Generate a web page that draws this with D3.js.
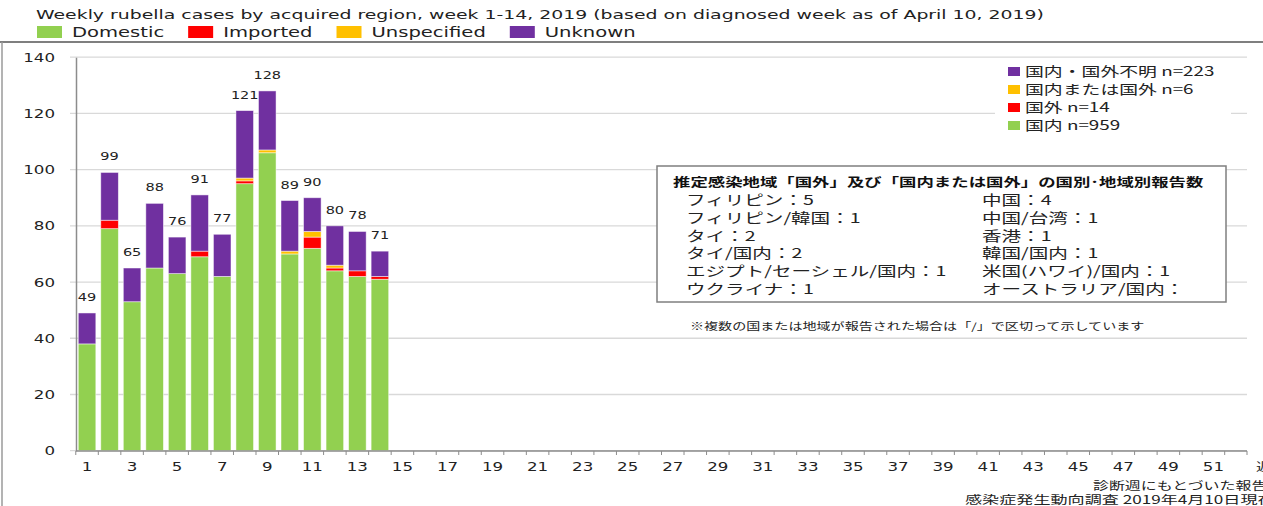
<!DOCTYPE html>
<html>
<head>
<meta charset="utf-8">
<script src="https://cdn.jsdelivr.net/npm/d3@7"></script>
<style>
  body { margin: 0; background: #fff; }
  svg { display: block; }
</style>
</head>
<body>
<svg id="chart" width="1263" height="506"></svg>
<script>
// weekly rubella counts, 2019 week 1-14, by acquired region
var weeks = d3.range(1, 53)
var domestic    = [38, 79, 53, 65, 63, 69, 62, 95, 106, 70, 72, 64, 62, 61]
var imported    = [0, 3, 0, 0, 0, 2, 0, 1, 0, 0, 4, 1, 2, 1]
var unspecified = [0, 0, 0, 0, 0, 0, 0, 1, 1, 1, 2, 1, 0, 0]
var unknown     = [11, 17, 12, 23, 13, 20, 15, 24, 21, 18, 12, 14, 14, 9]

var seriesKeys   = ["domestic", "imported", "unspecified", "unknown"]
var seriesColors = ["#92d050", "#ff0000", "#ffc000", "#7030a0"]
var legendEn     = ["Domestic", "Imported", "Unspecified", "Unknown"]
var legendJa     = ["国内", "国外", "国内または国外", "国内・国外不明"]
var yTicks       = [0, 20, 40, 60, 80, 100, 120, 140]

var subtitle = "Weekly rubella cases by acquired region, week 1-14, 2019 (based on diagnosed week as of April 10, 2019)"
var boxTitle = "推定感染地域「国外」及び「国内または国外」の国別･地域別報告数"
var boxLeft  = ["フィリピン：5", "フィリピン/韓国：1", "タイ：2", "タイ/国内：2", "エジプト/セーシェル/国内：1", "ウクライナ：1"]
var boxRight = ["中国：4", "中国/台湾：1", "香港：1", "韓国/国内：1", "米国(ハワイ)/国内：1", "オーストラリア/国内："]
var note     = "※複数の国または地域が報告された場合は「/」で区切って示しています"
var source   = ["診断週にもとづいた報告数", "感染症発生動向調査 2019年4月10日現在"]
var xTitle   = "週"

var FONT = "'DejaVu Sans', Verdana, sans-serif"
var JFONT = "'Noto Sans CJK JP', sans-serif"
var SX = 1.45 // the picture is stretched sideways

var svg = d3.select("#chart")

function place(t, x, y, sx) {
  t.attr("transform", "translate(" + x + "," + y + ") scale(" + (sx || SX) + ",1)")
  return t
}

var rows = domestic.map(function(d, i) {
  return { week: weeks[i], domestic: d, imported: imported[i], unspecified: unspecified[i], unknown: unknown[i] }
})
var stacked = d3.stack().keys(seriesKeys)(rows)

var x = d3.scaleBand().domain(weeks).range([76, 1247]).paddingInner(0.22).paddingOuter(0.1)
var y = d3.scaleLinear().domain([0, 140]).range([450.7, 57.2])

// outer frame
svg.append("line").attr("x1", 0).attr("x2", 1263).attr("y1", 42).attr("y2", 42)
  .attr("stroke", "#7f7f7f").attr("stroke-width", 2)
svg.append("line").attr("x1", 2).attr("x2", 2).attr("y1", 42).attr("y2", 506)
  .attr("stroke", "#9a9a9a").attr("stroke-width", 1.5)

// subtitle + top legend
place(svg.append("text"), 36, 19).attr("font-family", FONT).attr("font-size", 13)
  .attr("fill", "#222").text(subtitle)

var lx = 37
legendEn.forEach(function(name, i) {
  svg.append("rect").attr("x", lx).attr("y", 26).attr("width", 25).attr("height", 12)
    .attr("fill", seriesColors[i])
  var t = place(svg.append("text"), lx + 35, 37).attr("font-family", FONT).attr("font-size", 13.5)
    .attr("fill", "#222").text(name)
  lx = lx + 35 + t.node().getComputedTextLength() * SX + 24
})

// grid + y axis
var grid = svg.append("g")
grid.selectAll("line").data(yTicks).enter().append("line")
  .attr("x1", 70).attr("x2", 1247)
  .attr("y1", function(d) { return y(d) }).attr("y2", function(d) { return y(d) })
  .attr("stroke", "#d9d9d9").attr("stroke-width", 1.3)

var yAxis = svg.append("g").attr("transform", "translate(76,0)")
  .call(d3.axisLeft(y).tickValues(yTicks).tickSize(0).tickPadding(0))
yAxis.select(".domain").attr("stroke", "#8c8c8c").attr("stroke-width", 1.5)
yAxis.selectAll("text").attr("font-family", FONT).attr("font-size", 11.5).attr("fill", "#222")
  .attr("x", -21 / SX).attr("dy", "0.36em").attr("transform", "scale(" + SX + ",1)")

// bars
var layer = svg.append("g").selectAll("g").data(stacked).enter().append("g")
  .attr("fill", function(d, i) { return seriesColors[i] })
layer.selectAll("rect").data(function(d) { return d }).enter().append("rect")
  .attr("x", function(d) { return x(d.data.week) })
  .attr("width", x.bandwidth())
  .attr("y", function(d) { return y(d[1]) })
  .attr("height", function(d) { return y(d[0]) - y(d[1]) })
  .attr("stroke", "#ffffff").attr("stroke-opacity", 0.6).attr("stroke-width", 0.8)

// totals above bars
svg.append("g").selectAll("text").data(rows).enter().append("text")
  .each(function(d) {
    var tot = d.domestic + d.imported + d.unspecified + d.unknown
    place(d3.select(this), x(d.week) + x.bandwidth() / 2, y(tot) - 12)
      .attr("text-anchor", "middle").attr("font-family", FONT).attr("font-size", 10)
      .attr("fill", "#222").text(tot)
  })

// x axis
var pad = (x.step() - x.bandwidth()) / 2
svg.append("line").attr("x1", 76).attr("x2", 1247).attr("y1", 451).attr("y2", 451)
  .attr("stroke", "#8c8c8c").attr("stroke-width", 1.5)
svg.append("g").selectAll("line").data(weeks.concat([53])).enter().append("line")
  .attr("x1", function(d) { return d === 53 ? 1247 : x(d) - pad })
  .attr("x2", function(d) { return d === 53 ? 1247 : x(d) - pad })
  .attr("y1", 451).attr("y2", 455).attr("stroke", "#8c8c8c").attr("stroke-width", 1)
svg.append("g").selectAll("text").data(weeks.filter(function(w) { return w % 2 === 1 })).enter().append("text")
  .each(function(w) {
    place(d3.select(this), x(w) + x.bandwidth() / 2, 471)
      .attr("text-anchor", "middle").attr("font-family", FONT).attr("font-size", 11.5)
      .attr("fill", "#222").text(w)
  })
place(svg.append("text"), 1256, 471).attr("font-family", JFONT).attr("font-size", 11.5)
  .attr("fill", "#222").text(xTitle)

// right legend (Japanese), reverse order
var jl = svg.append("g")
jl.append("rect").attr("x", 995).attr("y", 60).attr("width", 236).attr("height", 76).attr("fill", "#fff")
var jOrder = [3, 2, 1, 0]
var totals = [d3.sum(domestic), d3.sum(imported), d3.sum(unspecified), d3.sum(unknown)]
jOrder.forEach(function(k, i) {
  var cy = 71 + i * 18
  jl.append("rect").attr("x", 1008).attr("y", cy - 4).attr("width", 12).attr("height", 9)
    .attr("fill", seriesColors[k])
  place(jl.append("text"), 1025, cy + 5).attr("font-family", JFONT).attr("font-size", 13)
    .attr("fill", "#222").text(legendJa[k] + " n=" + totals[k])
})

// country box
var box = svg.append("g")
box.append("rect").attr("x", 657).attr("y", 166).attr("width", 569).attr("height", 136)
  .attr("fill", "#fff").attr("stroke", "#7f7f7f").attr("stroke-width", 1.5)
place(box.append("text"), 673, 187).attr("font-family", JFONT).attr("font-size", 12)
  .attr("font-weight", "bold").attr("fill", "#111").text(boxTitle)
boxLeft.forEach(function(s, i) {
  place(box.append("text"), 686, 205 + i * 17.8).attr("font-family", JFONT).attr("font-size", 13.5)
    .attr("fill", "#222").text(s)
})
boxRight.forEach(function(s, i) {
  place(box.append("text"), 982, 205 + i * 17.8).attr("font-family", JFONT).attr("font-size", 13.5)
    .attr("fill", "#222").text(s)
})
place(svg.append("text"), 690, 330).attr("font-family", JFONT).attr("font-size", 9.7)
  .attr("fill", "#222").text(note)

// source lines, cut off at the right edge like the original
var srcX = [1093, 965]
var srcSize = [11, 11.8]
source.forEach(function(s, i) {
  place(svg.append("text"), srcX[i], 490 + i * 13.5)
    .attr("font-family", JFONT).attr("font-size", srcSize[i]).attr("fill", "#222").text(s)
})
</script>
</body>
</html>
